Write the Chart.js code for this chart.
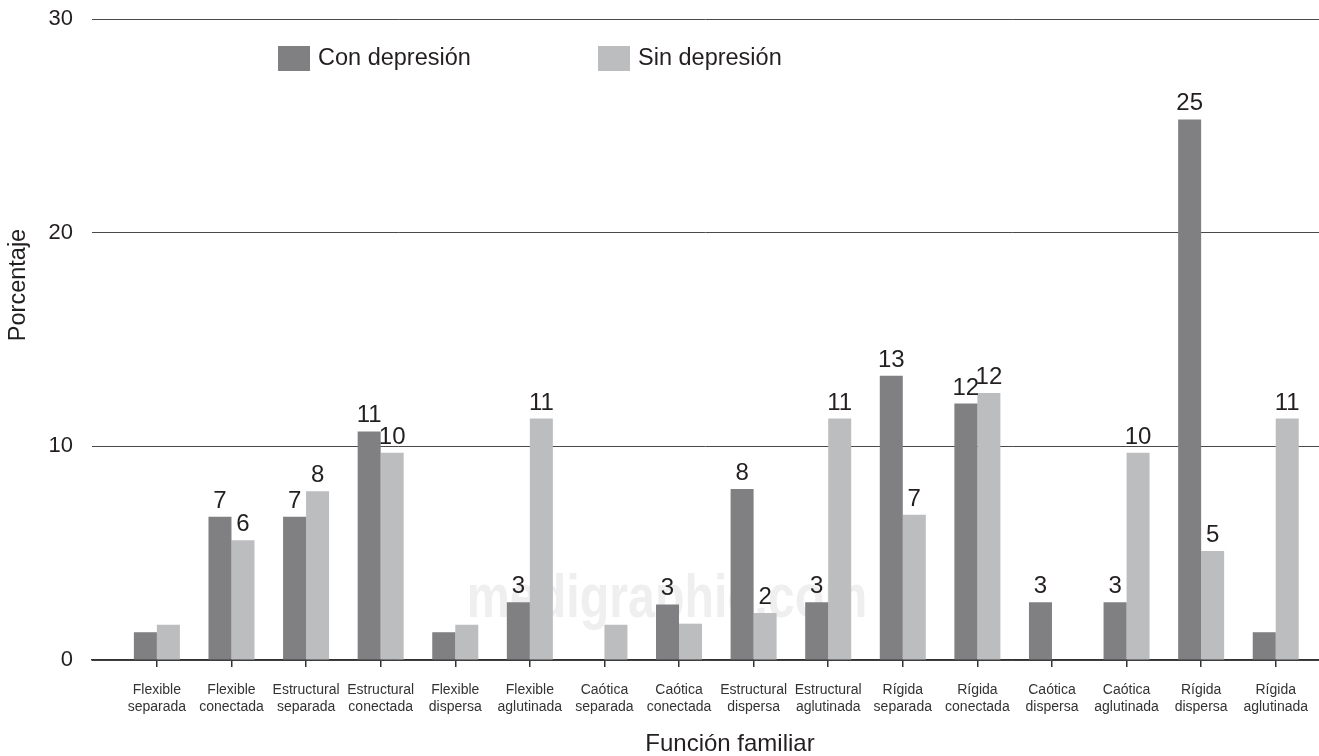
<!DOCTYPE html>
<html>
<head>
<meta charset="utf-8">
<script src="https://cdn.jsdelivr.net/npm/chart.js@4.4.1/dist/chart.umd.min.js"></script>
<style>
    html, body { margin: 0; padding: 0; background: #fff; }
    #wrap { width: 1319px; height: 756px; }
</style>
</head>
<body>
<div id="wrap"><canvas id="chart"></canvas></div>
<script>
// Datos
const categories = [
    ['Flexible', 'separada'], ['Flexible', 'conectada'], ['Estructural', 'separada'], ['Estructural', 'conectada'],
    ['Flexible', 'dispersa'], ['Flexible', 'aglutinada'], ['Caótica', 'separada'], ['Caótica', 'conectada'],
    ['Estructural', 'dispersa'], ['Estructural', 'aglutinada'], ['Rígida', 'separada'], ['Rígida', 'conectada'],
    ['Caótica', 'dispersa'], ['Caótica', 'aglutinada'], ['Rígida', 'dispersa'], ['Rígida', 'aglutinada']
];
const conDepresion = [1.3, 6.7, 6.7, 10.7, 1.3, 2.7, 0, 2.6, 8.0, 2.7, 13.3, 12.0, 2.7, 2.7, 25.3, 1.3];
const sinDepresion = [1.65, 5.6, 7.9, 9.7, 1.65, 11.3, 1.65, 1.7, 2.2, 11.3, 6.8, 12.5, 0, 9.7, 5.1, 11.3];
const conLabels = [null, '7', '7', '11', null, '3', null, '3', '8', '3', '13', '12', '3', '3', '25', null];
const sinLabels = [null, '6', '8', '10', null, '11', null, null, '2', '11', '7', '12', null, '10', '5', '11'];
const yTicks = [0, 10, 20, 30];

const FONT = "'Liberation Sans', Arial, Helvetica, sans-serif";
const TEXT = '#231f20';

/**
 * Marca de agua detrás de las barras
 */
const watermarkPlugin = {
    id: 'watermark',
    beforeDatasetsDraw(chart) {
        const { ctx } = chart;
        ctx.save();
        ctx.translate(667, 617);
        ctx.scale(0.78, 1);
        ctx.font = 'bold 62px ' + FONT;
        ctx.fillStyle = '#efefef';
        ctx.textAlign = 'center';
        ctx.textBaseline = 'alphabetic';
        ctx.fillText('medigraphic.com', 0, 0);
        ctx.restore();
    }
};

/**
 * Etiquetas de valor, leyenda y títulos de ejes
 */
const annotatePlugin = {
    id: 'annotate',
    afterDatasetsDraw(chart) {
        const { ctx, chartArea } = chart;
        ctx.save();
        ctx.font = '24px ' + FONT;
        ctx.fillStyle = TEXT;
        ctx.textAlign = 'center';
        ctx.textBaseline = 'alphabetic';
        [conLabels, sinLabels].forEach((labels, d) => {
            chart.getDatasetMeta(d).data.forEach((bar, i) => {
                if (labels[i] !== null) ctx.fillText(labels[i], bar.x, bar.y - 9);
            });
        });

        // Leyenda dentro del área del gráfico
        const offsets = [186, 506];
        ctx.font = '23.5px ' + FONT;
        chart.data.datasets.forEach((ds, d) => {
            const x = chartArea.left + offsets[d];
            const y = chartArea.top + 27;
            ctx.fillStyle = ds.backgroundColor;
            ctx.fillRect(x, y, 32, 25);
            ctx.fillStyle = TEXT;
            ctx.textAlign = 'left';
            ctx.textBaseline = 'middle';
            ctx.fillText(ds.label, x + 40, y + 13);
        });

        // Títulos de ejes
        ctx.font = '24px ' + FONT;
        ctx.textAlign = 'center';
        ctx.textBaseline = 'middle';
        ctx.fillText('Función familiar', 730, 744);
        ctx.translate(19, 285);
        ctx.rotate(-Math.PI / 2);
        ctx.font = '23.5px ' + FONT;
        ctx.fillText('Porcentaje', 0, 0);
        ctx.restore();
    }
};

const ctx = document.getElementById('chart');
new Chart(ctx, {
    type: 'bar',
    data: {
        datasets: [
            {
                label: 'Con depresión',
                data: conDepresion.map((v, i) => ({ x: i, y: v })),
                backgroundColor: '#808083',
                borderWidth: 0,
                barPercentage: 1,
                categoryPercentage: 0.617
            },
            {
                label: 'Sin depresión',
                data: sinDepresion.map((v, i) => ({ x: i, y: v })),
                backgroundColor: '#bcbdbf',
                borderWidth: 0,
                barPercentage: 1,
                categoryPercentage: 0.617
            }
        ]
    },
    options: {
        responsive: true,
        maintainAspectRatio: false,
        animation: false,
        layout: { padding: { top: 19, right: 0, left: 0, bottom: 0 } },
        plugins: {
            legend: { display: false },
            tooltip: { enabled: false }
        },
        scales: {
            x: {
                type: 'linear',
                min: -0.87,
                max: 15.58,
                offset: false,
                afterBuildTicks: (scale) => {
                    scale.ticks = categories.map((c, i) => ({ value: i }));
                },
                afterFit: (scale) => {
                    scale.height = 96;
                    scale.paddingLeft = 0;
                    scale.paddingRight = 0;
                },
                grid: {
                    offset: false,
                    drawOnChartArea: false,
                    drawTicks: true,
                    tickLength: 7,
                    color: '#333',
                    lineWidth: 1.5
                },
                border: { display: true, color: '#333', width: 1.5 },
                ticks: {
                    autoSkip: false,
                    maxRotation: 0,
                    padding: 14,
                    color: '#333',
                    font: { family: FONT, size: 14, lineHeight: 1.25 },
                    callback: (value, index) => categories[index]
                }
            },
            y: {
                min: 0,
                max: 30,
                afterBuildTicks: (scale) => {
                    scale.ticks = yTicks.map(v => ({ value: v }));
                },
                afterFit: (scale) => {
                    scale.width = 92;
                    scale.paddingTop = 0;
                    scale.paddingBottom = 0;
                },
                grid: {
                    drawTicks: false,
                    color: '#4a4a4a',
                    lineWidth: 1
                },
                border: { display: false },
                ticks: {
                    padding: 19,
                    color: TEXT,
                    font: { family: FONT, size: 22 }
                }
            }
        }
    },
    plugins: [watermarkPlugin, annotatePlugin]
});
</script>
</body>
</html>
